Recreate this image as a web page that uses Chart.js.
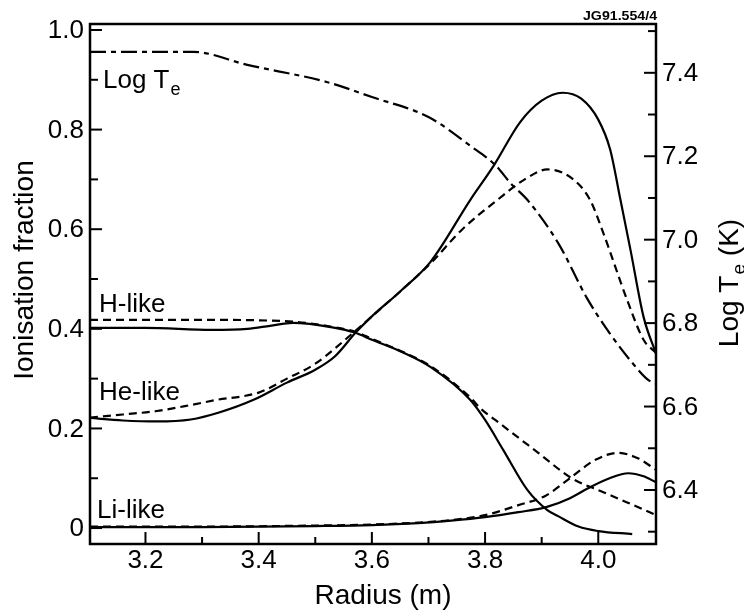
<!DOCTYPE html>
<html><head><meta charset="utf-8">
<script src="https://cdn.jsdelivr.net/npm/chart.js@4.4.0/dist/chart.umd.min.js"></script>
<style>html,body{margin:0;padding:0;background:#fff;}canvas{display:block;}</style>
</head><body>
<canvas id="c" width="744" height="611"></canvas>
<script>
// ---- data ----
const radiusHeSolid = [3.102, 3.16, 3.22, 3.28, 3.33, 3.39, 3.45, 3.50, 3.535, 3.571, 3.60, 3.65, 3.704, 3.774, 3.815, 3.862, 3.90, 3.937, 3.97, 4.0, 4.021, 4.039, 4.057, 4.08, 4.102];
const fracHeSolid   = [0.221, 0.216, 0.214, 0.218, 0.232, 0.257, 0.292, 0.318, 0.345, 0.392, 0.425, 0.475, 0.535, 0.659, 0.727, 0.815, 0.858, 0.874, 0.862, 0.820, 0.760, 0.660, 0.558, 0.424, 0.35];

const radiusHeDash = [3.102, 3.16, 3.22, 3.28, 3.324, 3.40, 3.45, 3.50, 3.571, 3.60, 3.65, 3.704, 3.76, 3.822, 3.87, 3.91, 3.95, 3.985, 4.009, 4.051, 4.08, 4.102];
const fracHeDash   = [0.222, 0.228, 0.235, 0.247, 0.257, 0.272, 0.30, 0.33, 0.396, 0.425, 0.475, 0.532, 0.60, 0.659, 0.70, 0.72, 0.705, 0.66, 0.592, 0.458, 0.378, 0.352];

const radiusHSolid = [3.102, 3.20, 3.317, 3.38, 3.42, 3.46, 3.53, 3.571, 3.60, 3.65, 3.704, 3.774, 3.80, 3.832, 3.875, 3.91, 3.929, 3.965, 4.0, 4.06];
const fracHSolid   = [0.402, 0.402, 0.398, 0.400, 0.406, 0.412, 0.403, 0.392, 0.378, 0.355, 0.323, 0.257, 0.217, 0.157, 0.076, 0.036, 0.024, 0.003, -0.006, -0.012];

const radiusHDash = [3.102, 3.30, 3.453, 3.53, 3.571, 3.60, 3.65, 3.704, 3.774, 3.792, 3.818, 3.894, 3.953, 4.009, 4.05, 4.102];
const fracHDash   = [0.418, 0.418, 0.415, 0.404, 0.394, 0.380, 0.356, 0.325, 0.262, 0.24, 0.217, 0.151, 0.10, 0.072, 0.052, 0.026];

const radiusLiSolid = [3.102, 3.30, 3.50, 3.60, 3.682, 3.74, 3.80, 3.859, 3.908, 3.95, 3.982, 4.02, 4.053, 4.08, 4.102];
const fracLiSolid   = [0.002, 0.002, 0.004, 0.006, 0.010, 0.015, 0.022, 0.032, 0.042, 0.060, 0.080, 0.100, 0.110, 0.104, 0.092];

const radiusLiDash = [3.102, 3.30, 3.50, 3.60, 3.682, 3.74, 3.80, 3.859, 3.907, 3.952, 3.995, 4.035, 4.07, 4.102];
const fracLiDash   = [0.003, 0.003, 0.005, 0.007, 0.011, 0.016, 0.026, 0.046, 0.065, 0.102, 0.137, 0.151, 0.14, 0.117];

const radiusTe = [3.102, 3.20, 3.285, 3.38, 3.52, 3.60, 3.70, 3.776, 3.818, 3.846, 3.875, 3.93, 3.98, 4.02, 4.06, 4.088, 4.102];
const logTe    = [7.450, 7.450, 7.450, 7.419, 7.378, 7.342, 7.294, 7.223, 7.179, 7.134, 7.095, 6.99, 6.86, 6.776, 6.705, 6.664, 6.655];

const xTickMajor = [3.2, 3.4, 3.6, 3.8, 4.0];
const xTickLabels = ['3.2', '3.4', '3.6', '3.8', '4.0'];
const xTickMinor = [3.3, 3.5, 3.7, 3.9];
const yLeftMajor = [0, 0.2, 0.4, 0.6, 0.8, 1.0];
const yLeftLabels = ['0', '0.2', '0.4', '0.6', '0.8', '1.0'];
const yLeftMinor = [0.1, 0.3, 0.5, 0.7, 0.9];
const yRightMajor = [6.4, 6.6, 6.8, 7.0, 7.2, 7.4];
const yRightLabels = ['6.4', '6.6', '6.8', '7.0', '7.2', '7.4'];
const yRightMinor = [6.3, 6.5, 6.7, 6.9, 7.1, 7.3, 7.5];

// ---- chart ----
const FONT = '"Liberation Sans", Arial, Helvetica, sans-serif';
const pts = (xs, ys) => xs.map((x, i) => ({x: x, y: ys[i]}));
const DASH = [8, 5];
const DASHDOT = [16, 5, 5, 5];

function line(ctx, x1, y1, x2, y2) { ctx.beginPath(); ctx.moveTo(x1, y1); ctx.lineTo(x2, y2); ctx.stroke(); }

const deco = {
  id: 'deco',
  beforeDraw(chart) {
    const ctx = chart.ctx;
    ctx.save(); ctx.fillStyle = '#fff'; ctx.fillRect(0, 0, chart.width, chart.height); ctx.restore();
  },
  afterDraw(chart) {
    const ctx = chart.ctx, a = chart.chartArea;
    const x = chart.scales.x, yL = chart.scales.yL, yR = chart.scales.yR;
    ctx.save();
    ctx.strokeStyle = '#000'; ctx.fillStyle = '#000';
    ctx.lineWidth = 2.5;
    ctx.strokeRect(a.left, a.top, a.right - a.left, a.bottom - a.top);
    ctx.lineWidth = 2;
    xTickMajor.forEach(v => { const p = x.getPixelForValue(v); line(ctx, p, a.bottom, p, a.bottom - 12); });
    xTickMinor.forEach(v => { const p = x.getPixelForValue(v); line(ctx, p, a.bottom, p, a.bottom - 7); });
    yLeftMajor.forEach(v => { const p = yL.getPixelForValue(v); line(ctx, a.left, p, a.left + 12, p); });
    yLeftMinor.forEach(v => { const p = yL.getPixelForValue(v); line(ctx, a.left, p, a.left + 8, p); });
    yRightMajor.forEach(v => { const p = yR.getPixelForValue(v); line(ctx, a.right, p, a.right - 12, p); });
    yRightMinor.forEach(v => { const p = yR.getPixelForValue(v); line(ctx, a.right, p, a.right - 8, p); });

    ctx.font = '26px ' + FONT;
    ctx.textBaseline = 'middle';
    ctx.textAlign = 'center';
    xTickMajor.forEach((v, i) => ctx.fillText(xTickLabels[i], x.getPixelForValue(v), 561));
    ctx.textAlign = 'right';
    yLeftMajor.forEach((v, i) => ctx.fillText(yLeftLabels[i], 84, yL.getPixelForValue(v) + 1));
    ctx.textAlign = 'left';
    yRightMajor.forEach((v, i) => ctx.fillText(yRightLabels[i], 662, yR.getPixelForValue(v) + 1));

    // series labels
    ctx.textBaseline = 'alphabetic';
    ctx.textAlign = 'left';
    ctx.font = '26px ' + FONT;
    ctx.fillText('H-like', 99, 312);
    ctx.fillText('He-like', 99, 400);
    ctx.fillText('Li-like', 97, 518);
    ctx.fillText('Log T', 103, 88);
    let w = ctx.measureText('Log T').width;
    ctx.font = '18px ' + FONT;
    ctx.fillText('e', 103 + w + 1, 95);

    // axis titles
    ctx.font = '28px ' + FONT;
    ctx.textAlign = 'center';
    ctx.fillText('Radius (m)', 383, 604);
    ctx.save();
    ctx.translate(33, 270); ctx.rotate(-Math.PI / 2);
    ctx.fillText('Ionisation fraction', 0, 0);
    ctx.restore();

    // right title "Log Te (K)"
    ctx.save();
    ctx.translate(738, 283); ctx.rotate(-Math.PI / 2);
    ctx.font = '28px ' + FONT;
    const w1 = ctx.measureText('Log T').width;
    ctx.font = '19px ' + FONT;
    const w2 = ctx.measureText('e').width;
    ctx.font = '28px ' + FONT;
    const w3 = ctx.measureText(' (K)').width;
    const tot = w1 + w2 + w3 + 1;
    ctx.textAlign = 'left';
    ctx.fillText('Log T', -tot / 2, 0);
    ctx.font = '19px ' + FONT;
    ctx.fillText('e', -tot / 2 + w1 + 1, 7);
    ctx.font = '28px ' + FONT;
    ctx.fillText(' (K)', -tot / 2 + w1 + 1 + w2, 0);
    ctx.restore();

    // figure id
    ctx.font = 'bold 12px ' + FONT;
    ctx.textAlign = 'left';
    const wid = ctx.measureText('JG91.554/4').width;
    ctx.save();
    ctx.translate(583, 20); ctx.scale(74 / wid, 1);
    ctx.fillText('JG91.554/4', 0, 0);
    ctx.restore();
    ctx.restore();
  }
};

function ds(label, xs, ys, axis, dash) {
  return {
    label: label, data: pts(xs, ys), yAxisID: axis,
    borderColor: '#000', borderWidth: 2.2, borderDash: dash,
    pointRadius: 0, fill: false, cubicInterpolationMode: 'monotone'
  };
}

new Chart(document.getElementById('c'), {
  type: 'line',
  data: {
    datasets: [
      ds('He-like (solid)', radiusHeSolid, fracHeSolid, 'yL', []),
      ds('He-like (dashed)', radiusHeDash, fracHeDash, 'yL', DASH),
      ds('H-like (solid)', radiusHSolid, fracHSolid, 'yL', []),
      ds('H-like (dashed)', radiusHDash, fracHDash, 'yL', DASH),
      ds('Li-like (solid)', radiusLiSolid, fracLiSolid, 'yL', []),
      ds('Li-like (dashed)', radiusLiDash, fracLiDash, 'yL', DASH),
      ds('Log Te', radiusTe, logTe, 'yR', DASHDOT)
    ]
  },
  options: {
    responsive: false, animation: false, devicePixelRatio: 1,
    layout: { autoPadding: false, padding: { left: 90, right: 88, top: 24, bottom: 67 } },
    plugins: { legend: { display: false }, tooltip: { enabled: false } },
    scales: {
      x: { type: 'linear', min: 3.102, max: 4.102, display: false },
      yL: { type: 'linear', position: 'left', min: -0.032, max: 1.012, display: false },
      yR: { type: 'linear', position: 'right', min: 6.2705, max: 7.517, display: false }
    }
  },
  plugins: [deco]
});
</script></body></html>
